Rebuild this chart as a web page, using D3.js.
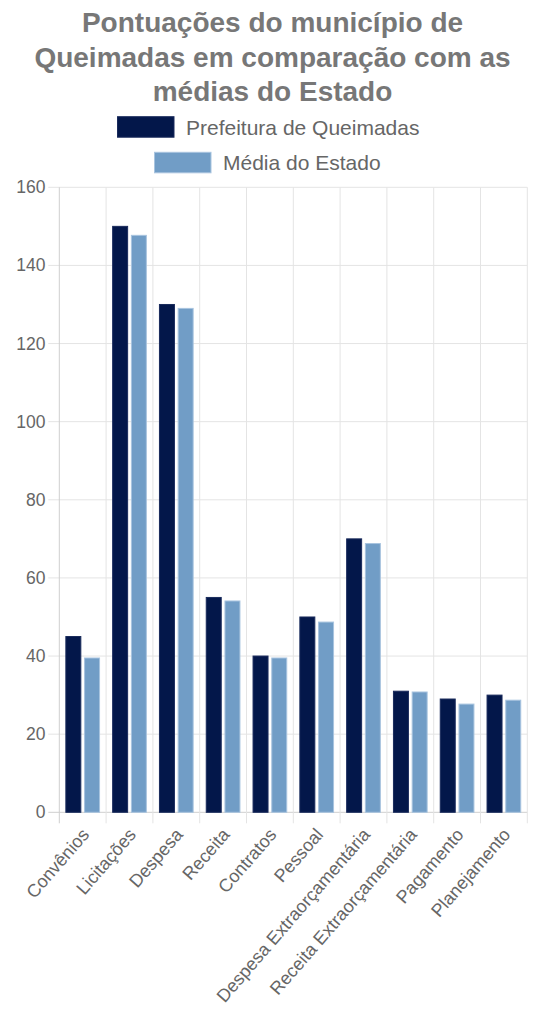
<!DOCTYPE html>
<html>
<head>
<meta charset="utf-8">
<script src="https://cdn.jsdelivr.net/npm/d3@7"></script>
<style>
  html, body { margin: 0; padding: 0; background: #fff; }
  svg { display: block; }
</style>
</head>
<body>
<svg id="chart" width="545" height="1024"></svg>
<script>
const titleLines = ["Pontuações do município de", "Queimadas em comparação com as", "médias do Estado"];
const categories = ["Convênios", "Licitações", "Despesa", "Receita", "Contratos", "Pessoal",
  "Despesa Extraorçamentária", "Receita Extraorçamentária", "Pagamento", "Planejamento"];
const seriesNames = ["Prefeitura de Queimadas", "Média do Estado"];
const prefeitura = [45, 150, 130, 55, 40, 50, 70, 31, 29, 30];
const mediaEstado = [39.5, 147.7, 129, 54.1, 39.5, 48.7, 68.8, 30.8, 27.7, 28.7];
const yTicks = [0, 20, 40, 60, 80, 100, 120, 140, 160];
const colors = ["#03174a", "#719dc6"];
const strokes = ["#1a2b5c", "#a8c4df"];

const svg = d3.select("#chart");
const plotLeft = 59.3, plotRight = 527.3, plotTop = 187.3, plotBottom = 812.3;

const x = d3.scaleBand().domain(categories).range([plotLeft, plotRight]).paddingInner(0).paddingOuter(0);
const x1 = d3.scaleBand().domain(seriesNames).range([0, x.bandwidth() * 0.8]).paddingInner(0.2).paddingOuter(0.1);
const y = d3.scaleLinear().domain([0, 160]).range([plotBottom, plotTop]);

// Title
svg.append("g").selectAll("text").data(titleLines).join("text")
  .attr("x", 272.5).attr("y", (d, i) => 32 + i * 34.5)
  .attr("text-anchor", "middle")
  .attr("font-family", "Liberation Sans, Arial, sans-serif")
  .attr("font-weight", "bold").attr("font-size", 28)
  .attr("fill", "#777").text(d => d);

// Legend
const legendRows = [
  { name: seriesNames[0], bx: 117.5, by: 116.7, color: colors[0], stroke: strokes[0] },
  { name: seriesNames[1], bx: 154.5, by: 152.3, color: colors[1], stroke: strokes[1] }
];
const lg = svg.append("g").selectAll("g").data(legendRows).join("g");
lg.append("rect").attr("x", d => d.bx).attr("y", d => d.by).attr("width", 56.5).attr("height", 20.5)
  .attr("fill", d => d.color).attr("stroke", d => d.stroke).attr("stroke-width", 1);
lg.append("text").attr("x", d => d.bx + 68.5).attr("y", d => d.by + 10.5)
  .attr("dominant-baseline", "central")
  .attr("font-family", "Liberation Sans, Arial, sans-serif").attr("font-size", 21)
  .attr("fill", "#666").text(d => d.name);

// Grid
const grid = svg.append("g");
grid.selectAll("line.h").data(yTicks).join("line").attr("class", "h")
  .attr("x1", plotLeft - 11).attr("x2", plotRight)
  .attr("y1", d => y(d)).attr("y2", d => y(d))
  .attr("stroke", d => d === 0 ? "#cfcfcf" : "#e4e4e4").attr("stroke-width", 1);
const vlines = categories.map(c => x(c)).concat([plotRight]);
grid.selectAll("line.v").data(vlines).join("line").attr("class", "v")
  .attr("x1", d => d).attr("x2", d => d)
  .attr("y1", plotTop).attr("y2", plotBottom + 11)
  .attr("stroke", (d, i) => i === 0 ? "#cfcfcf" : "#e4e4e4").attr("stroke-width", 1);

// Y tick labels
svg.append("g").selectAll("text").data(yTicks).join("text")
  .attr("x", 45.5).attr("y", d => y(d))
  .attr("text-anchor", "end").attr("dominant-baseline", "central")
  .attr("font-family", "Liberation Sans, Arial, sans-serif").attr("font-size", 17.5)
  .attr("fill", "#666").text(d => d);

// Bars
const data = categories.map((c, i) => ({ c, vals: [prefeitura[i], mediaEstado[i]] }));
const offset = x.bandwidth() * 0.1;
const groups = svg.append("g").selectAll("g").data(data).join("g")
  .attr("transform", d => `translate(${x(d.c) + offset},0)`);
groups.selectAll("rect").data(d => d.vals.map((v, k) => ({ v, k }))).join("rect")
  .attr("x", d => x1(seriesNames[d.k]))
  .attr("width", x1.bandwidth())
  .attr("y", d => y(d.v))
  .attr("height", d => y(0) - y(d.v))
  .attr("fill", d => colors[d.k])
  .attr("stroke", d => strokes[d.k]).attr("stroke-width", 1);

// X labels
svg.append("g").selectAll("text").data(categories).join("text")
  .attr("transform", d => `translate(${x(d) + x.bandwidth() / 2 + 3},${plotBottom + 19}) rotate(-49)`)
  .attr("text-anchor", "end").attr("dominant-baseline", "central")
  .attr("font-family", "Liberation Sans, Arial, sans-serif").attr("font-size", 18)
  .attr("fill", "#666").text(d => d);
</script>
</body>
</html>
